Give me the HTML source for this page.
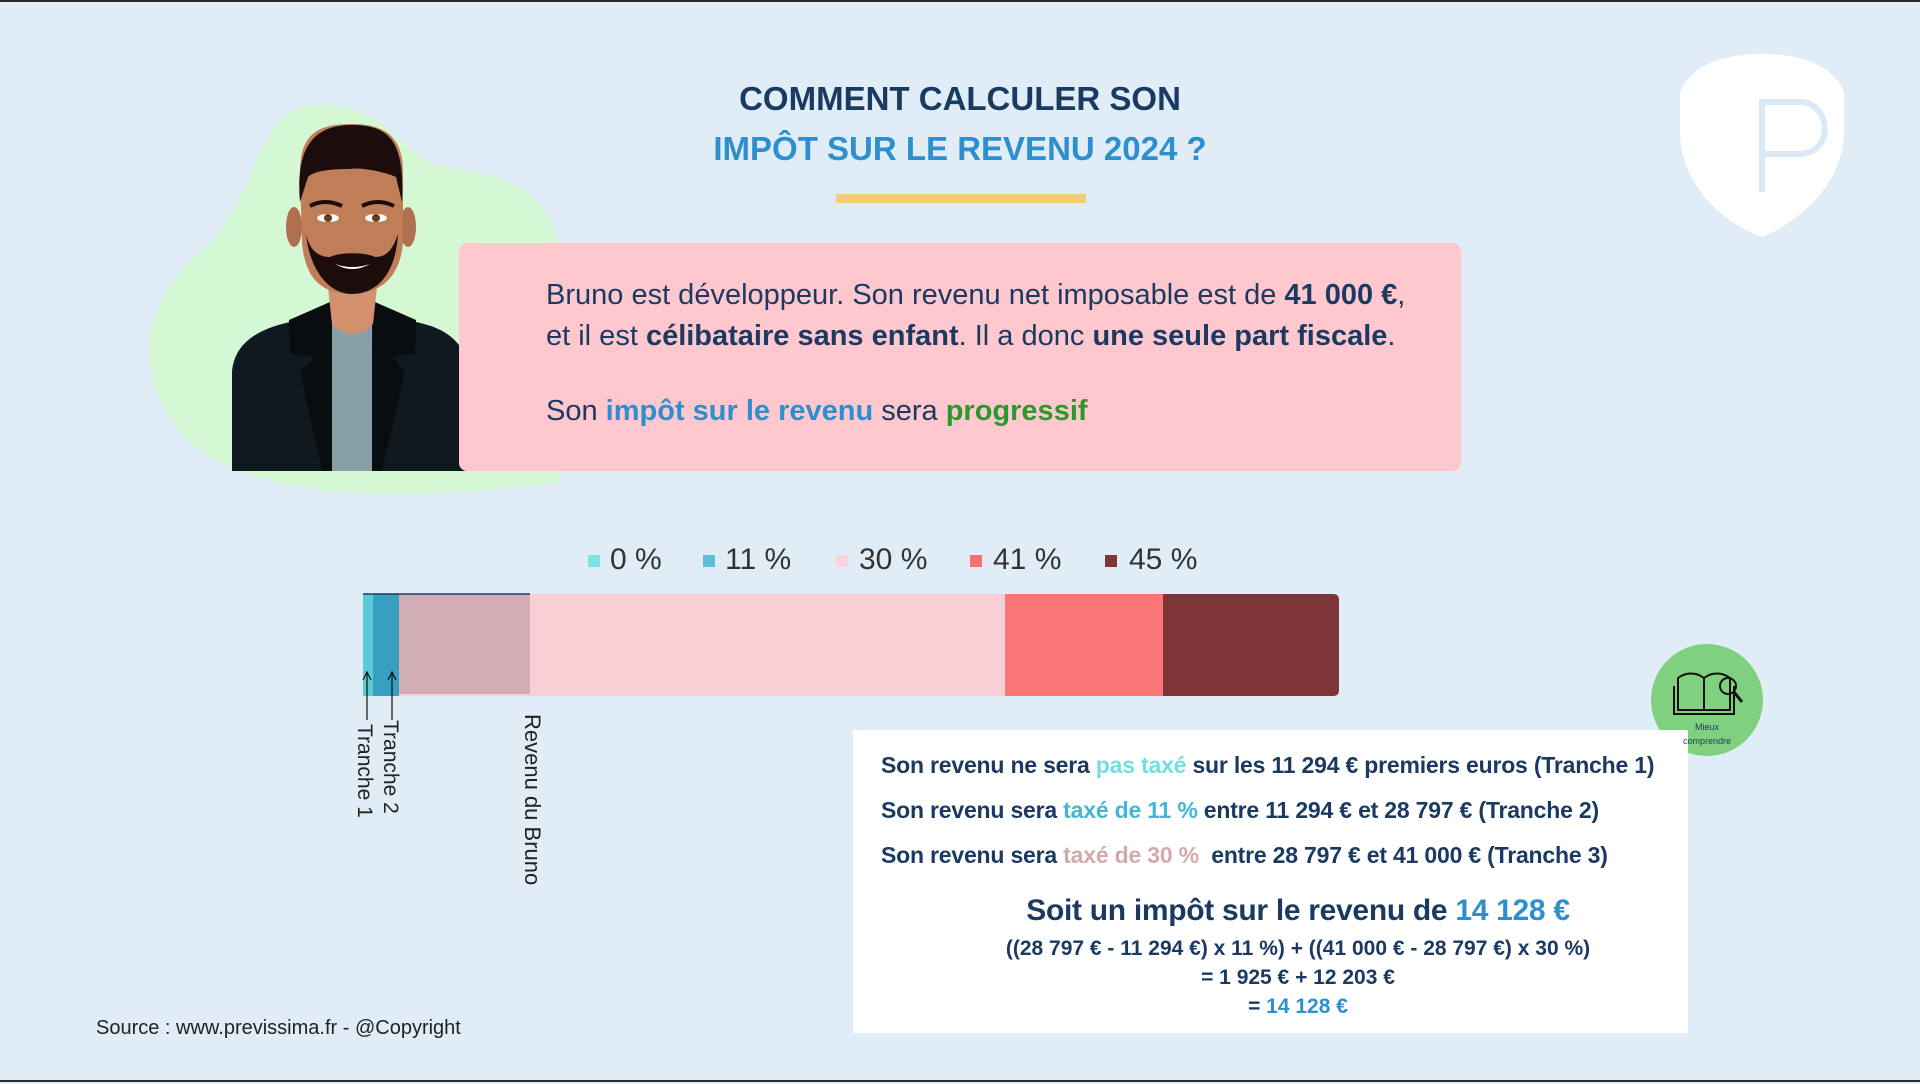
<!DOCTYPE html>
<html><head><meta charset="utf-8"><style>
*{margin:0;padding:0;box-sizing:border-box}
body{width:1920px;height:1082px;background:#e0edf7;position:relative;overflow:hidden;font-family:"Liberation Sans",sans-serif;border-top:2px solid #2a2a2a;border-bottom:2px solid #2a2a2a}
.a{position:absolute}
.t{color:#1b3a62;font-weight:bold;white-space:nowrap}
.nv{color:#1b3a62}
.bl{color:#2e8fce}
</style></head><body>
<svg class="a" style="left:0;top:0" width="1920" height="1082">
<path d="M315,103 C380,98 400,150 440,165 C500,170 560,190 560,260 L560,480 C400,500 260,500 190,440 C130,380 140,300 200,250 C260,200 250,110 315,103 Z" fill="#d4f7d4"/>
<path d="M1680,90 C1690,65 1720,52 1762,52 C1804,52 1834,65 1844,90 L1844,130 C1844,180 1800,220 1762,235 C1720,220 1680,180 1680,130 Z" fill="#fff"/>
<path d="M1762,190 L1762,100 L1800,100 C1830,100 1836,150 1800,152 L1762,152" fill="none" stroke="#dbe9f6" stroke-width="6"/>
<path d="M232,469 L232,370 C235,330 280,322 300,318 L330,300 L375,300 L405,318 C430,322 465,330 469,370 L469,469 Z" fill="#101820"/>
<path d="M289,318 L330,300 L345,469 L322,469 L300,370 L315,355 L290,352 Z" fill="#0a0d10"/>
<path d="M416,318 L375,300 L365,469 L382,469 L405,370 L392,355 L415,352 Z" fill="#0a0d10"/>
<rect x="332" y="318" width="40" height="151" fill="#88a0a5"/>
<path d="M328,285 L377,285 L373,322 C360,335 345,335 332,322 Z" fill="#d2906d"/>
<ellipse cx="294" cy="225" rx="8" ry="20" fill="#b07050"/>
<ellipse cx="408" cy="225" rx="8" ry="20" fill="#b07050"/>
<path d="M300,170 C300,130 320,122 352,122 C385,122 403,135 403,170 L403,240 C400,280 375,292 352,292 C325,292 305,280 302,240 Z" fill="#c07e58"/>
<path d="M300,200 C295,140 318,123 352,123 C390,123 405,140 402,200 L396,175 C385,170 360,165 350,167 C335,167 315,168 308,175 Z" fill="#1c0c0c"/>
<path d="M306,232 C310,270 330,292 352,292 C378,292 396,270 398,232 C392,250 385,255 375,255 C365,250 340,250 330,255 C320,255 310,250 306,232 Z" fill="#1c0c0c"/>
<path d="M335,262 Q352,272 370,262 Q352,268 335,262 Z" fill="#fff"/>
<ellipse cx="328" cy="216" rx="11" ry="4" fill="#fff"/><circle cx="328" cy="216" r="4" fill="#6a3a20"/>
<ellipse cx="376" cy="216" rx="11" ry="4" fill="#fff"/><circle cx="376" cy="216" r="4" fill="#6a3a20"/>
<path d="M310,204 Q325,196 342,204" stroke="#1c0c0c" stroke-width="4" fill="none"/>
<path d="M362,204 Q378,196 394,204" stroke="#1c0c0c" stroke-width="4" fill="none"/>
<path d="M363,592 H1333 Q1339,592 1339,598 V688 Q1339,694 1333,694 H363 Z" fill="#f8cfd5"/>
<rect x="363" y="592" width="10" height="102" fill="#5ccbd6"/>
<rect x="373" y="592" width="26" height="102" fill="#379fc0"/>
<rect x="399" y="592" width="131" height="100" fill="#d2adb6"/>
<rect x="1005" y="592" width="158" height="102" fill="#fa7575"/>
<path d="M1163,592 H1333 Q1339,592 1339,598 V688 Q1339,694 1333,694 H1163 Z" fill="#7e3538"/>
<line x1="363" y1="592" x2="530" y2="592" stroke="#1b3a62" stroke-width="1.5"/>
<g stroke="#111" stroke-width="1.2" fill="none">
<line x1="367" y1="670" x2="367" y2="718"/><path d="M363,678 L367,670 L371,678"/>
<line x1="392" y1="670" x2="392" y2="718"/><path d="M388,678 L392,670 L396,678"/>
</g>
<rect x="588" y="553" width="12" height="12" fill="#7fe3e6"/>
<rect x="703" y="553" width="12" height="12" fill="#5bbfd8"/>
<rect x="836" y="553" width="12" height="12" fill="#fbd3d8"/>
<rect x="970" y="553" width="12" height="12" fill="#f77373"/>
<rect x="1105" y="553" width="12" height="12" fill="#7e3538"/>
<circle cx="1707" cy="698" r="56" fill="#7fd17f"/>
<g stroke="#111" stroke-width="2" fill="none">
<path d="M1678,676 L1678,708 L1704,708 L1704,676 C1696,670 1686,670 1678,676 Z"/>
<path d="M1704,676 C1712,670 1722,670 1730,676 L1730,708 L1704,708"/>
<path d="M1674,684 L1674,712 L1734,712 L1734,684"/>
<circle cx="1728" cy="684" r="8"/><line x1="1734" y1="690" x2="1742" y2="700" stroke-width="3"/>
</g>
</svg>
<div class="a" style="left:0;width:1920px;top:78px;text-align:center;font-size:33px;font-weight:bold;color:#1b3a62">COMMENT CALCULER SON</div>
<div class="a" style="left:0;width:1920px;top:128px;text-align:center;font-size:33px;font-weight:bold;color:#2e8fce">IMPÔT SUR LE REVENU 2024 ?</div>
<div class="a" style="left:836px;top:192px;width:250px;height:9px;background:#f5cd79"></div>
<div class="a" style="left:459px;top:241px;width:1002px;height:228px;background:#ffc8ce;border-radius:8px"></div>
<div class="a nv" style="left:546px;top:273px;font-size:29px;line-height:41px;white-space:nowrap">Bruno est développeur. Son revenu net imposable est de <b>41 000 €</b>,<br>et il est <b>célibataire sans enfant</b>. Il a donc <b>une seule part fiscale</b>.</div>
<div class="a nv" style="left:546px;top:393px;font-size:29px;white-space:nowrap">Son <b class="bl">impôt sur le revenu</b> sera <b style="color:#2a9a2a">progressif</b></div>
<div class="a" style="top:541px;font-size:30px;color:#333;white-space:nowrap;left:610px">0 %</div>
<div class="a" style="top:541px;font-size:30px;color:#333;left:725px">11 %</div>
<div class="a" style="top:541px;font-size:30px;color:#333;left:859px">30 %</div>
<div class="a" style="top:541px;font-size:30px;color:#333;left:993px">41 %</div>
<div class="a" style="top:541px;font-size:30px;color:#333;left:1129px">45 %</div>
<div class="a" style="left:352px;top:722px;writing-mode:vertical-rl;font-size:21px;color:#222">Tranche 1</div>
<div class="a" style="left:378px;top:718px;writing-mode:vertical-rl;font-size:21px;color:#222">Tranche 2</div>
<div class="a" style="left:519px;top:712px;writing-mode:vertical-rl;font-size:22px;color:#222">Revenu du Bruno</div>
<div class="a" style="left:853px;top:728px;width:835px;height:303px;background:#fff"></div>
<div class="a" style="left:1707px;top:718px;width:0"><div style="position:absolute;left:-40px;width:80px;text-align:center;font-size:9px;line-height:14px;color:#1b3a62">Mieux<br>comprendre</div></div>
<div class="a t" style="left:881px;top:750px;font-size:23px;letter-spacing:-0.2px">Son revenu ne sera <span style="color:#6ee0e4">pas taxé</span> sur les 11 294 € premiers euros (Tranche 1)</div>
<div class="a t" style="left:881px;top:795px;font-size:23px;letter-spacing:-0.2px">Son revenu sera <span style="color:#3fb8d4">taxé de 11 %</span> entre 11 294 € et 28 797 € (Tranche 2)</div>
<div class="a t" style="left:881px;top:840px;font-size:23px;letter-spacing:-0.2px">Son revenu sera <span style="color:#d4a9ae">taxé de 30 %</span>&nbsp; entre 28 797 € et 41 000 € (Tranche 3)</div>
<div class="a t" style="left:853px;width:890px;text-align:center;top:892px;font-size:30px;letter-spacing:-0.3px">Soit un impôt sur le revenu de <span class="bl">14 128 €</span></div>
<div class="a t" style="left:853px;width:890px;text-align:center;top:935px;font-size:21px;letter-spacing:0px">((28 797 € - 11 294 €) x 11 %) + ((41 000 € - 28 797 €) x 30 %)</div>
<div class="a t" style="left:853px;width:890px;text-align:center;top:964px;font-size:21px">= 1 925 € + 12 203 €</div>
<div class="a t" style="left:853px;width:890px;text-align:center;top:993px;font-size:21px">= <span class="bl">14 128 €</span></div>
<div class="a" style="left:96px;top:1015px;font-size:20px;color:#222">Source : www.previssima.fr - @Copyright</div>
</body></html>
